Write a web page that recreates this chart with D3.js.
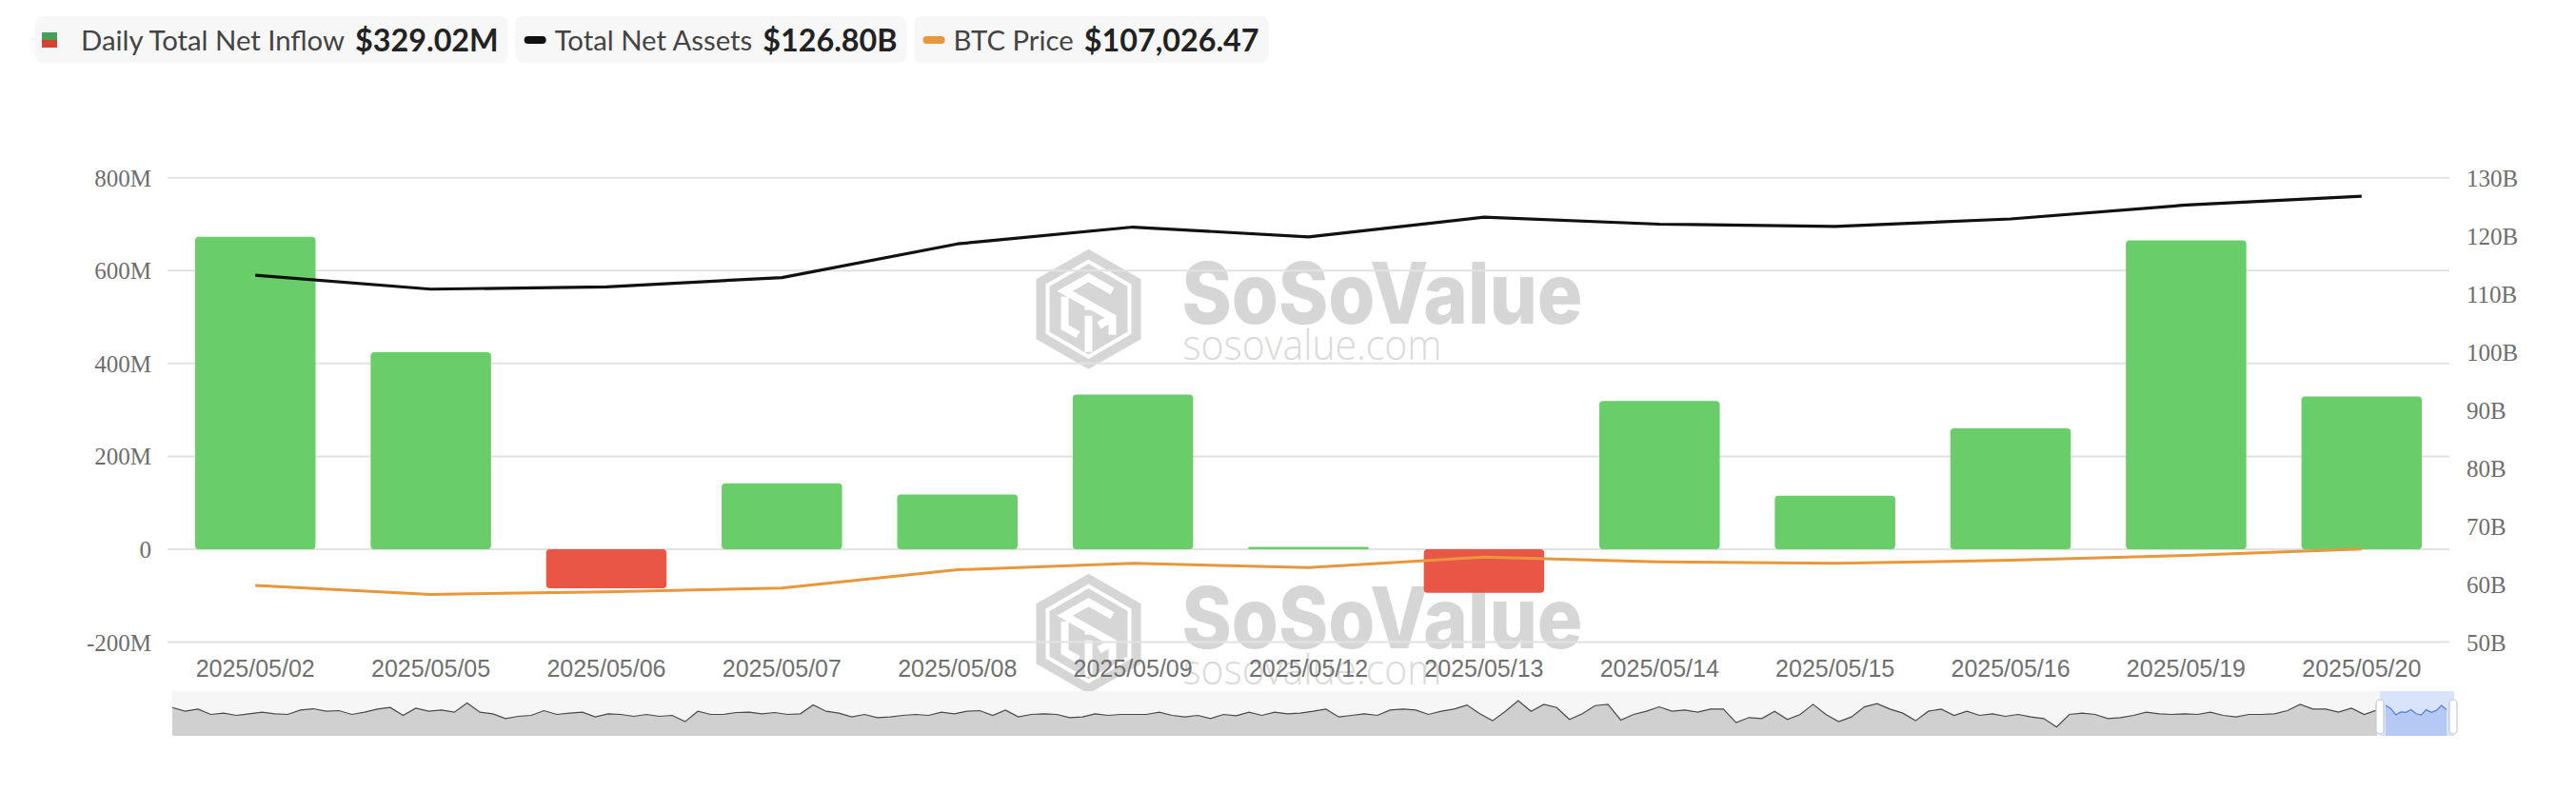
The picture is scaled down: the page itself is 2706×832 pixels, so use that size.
<!DOCTYPE html>
<html><head><meta charset="utf-8">
<script src="https://cdn.jsdelivr.net/npm/d3@7"></script>
<style>html,body{margin:0;padding:0;background:#fff;} svg{display:block;}</style>
</head><body>
<svg id="chart" width="2706" height="832"></svg>
<script>
// ---------------- DATA ----------------
const dates = ["2025/05/02","2025/05/05","2025/05/06","2025/05/07","2025/05/08","2025/05/09","2025/05/12","2025/05/13","2025/05/14","2025/05/15","2025/05/16","2025/05/19","2025/05/20"];
const netInflowM = [673, 424, -84, 142, 118, 333, 5, -94, 319, 115, 260, 665, 329.02];
const totalNetAssetsB = [113.2, 110.8, 111.2, 112.8, 118.6, 121.5, 119.8, 123.2, 122.0, 121.6, 122.9, 125.3, 126.80];
const btcPrice = [96834, 94351, 95066, 96119, 101254, 103022, 101865, 104790, 103464, 103022, 103906, 105232, 107026.47];
const leftTicks = [-200, 0, 200, 400, 600, 800];
const rightTicks = [50, 60, 70, 80, 90, 100, 110, 120, 130];
const legendItems = [
  {label: "Daily Total Net Inflow", value: "$329.02M", icon: "split"},
  {label: "Total Net Assets", value: "$126.80B", icon: "#111111"},
  {label: "BTC Price", value: "$107,026.47", icon: "#e8973c"}
];
// overview (data-zoom slider) history of daily net inflow, M USD (sampled)
const overviewHistoryM = [500,200,375,-50,50,-125,0,125,0,-50,300,400,200,250,-50,125,375,500,-125,450,200,300,125,850,125,0,-375,-200,-125,250,-50,50,125,-250,0,-50,-200,-50,-200,-125,-625,200,-50,-50,100,125,0,100,-50,0,700,200,50,-250,-50,-300,-250,-125,-50,-125,125,0,200,250,-125,300,-250,-50,0,-50,-300,-250,0,-125,-50,-50,-50,125,-125,-250,-125,-375,-50,-150,125,-125,125,0,50,200,375,
 -250,-125,0,-125,300,375,300,-50,200,375,700,0,-550,200,1050,200,750,500,-450,0,650,750,-500,-50,200,550,200,300,125,375,375,-700,-300,-375,200,-450,-50,750,-50,-625,-250,550,800,375,50,-550,200,375,-125,200,-125,0,-200,-50,-250,-375,-1050,-50,50,-50,-375,-300,-125,125,0,-50,0,-50,125,-125,-250,-50,-50,0,250,750,375,375,125,450,-50,300];

// ---------------- LAYOUT ----------------
const plot = {left: 176, right: 2573, top: 186.7, bottom: 674.5};
const svg = d3.select("#chart");

const x = d3.scaleBand().domain(dates).range([plot.left, plot.right]).paddingInner(0.314).paddingOuter(0.157);
const yL = d3.scaleLinear().domain([-200, 800]).range([plot.bottom, plot.top]);
const yR = d3.scaleLinear().domain([50, 130]).range([plot.bottom, plot.top]);
const yBtc = d3.scaleLinear().domain([81000, 211000]).range([plot.bottom, plot.top]);
const cx = d => x(d) + x.bandwidth() / 2;

const WM = "#d6d6d6";
// ---------------- WATERMARKS ----------------
function watermark(ox, oy) {
  const g = svg.append("g").attr("transform", `translate(${ox},${oy})`);
  g.append("polygon").attr("points", "55,0 110,31.5 110,94.5 55,126 0,94.5 0,31.5").attr("fill", WM);
  g.append("polygon").attr("points", "55,13 98,38 98,88 55,113 12,88 12,38").attr("fill", "none").attr("stroke", "#fff").attr("stroke-width", 4);
  g.append("path").attr("d", "M80,44 L55,30 L30,44 L55,58 L55,64 M55,58 L80,72 L80,90 M30,50 L30,82 L44,90 M55,70 L55,108 M66,80 L80,72")
    .attr("fill", "none").attr("stroke", "#fff").attr("stroke-width", 8).attr("stroke-linejoin", "miter");
  g.append("text").attr("x", 153).attr("y", 78.3).text("SoSoValue")
    .attr("font-family", "Inter, Roboto, sans-serif").attr("font-weight", 800).attr("font-size", 89)
    .attr("textLength", 421).attr("lengthAdjust", "spacingAndGlyphs").attr("fill", WM);
  g.append("text").attr("x", 154).attr("y", 116.6).text("sosovalue.com")
    .attr("font-family", "'Open Sans', sans-serif").attr("font-weight", 300).attr("font-size", 44)
    .attr("textLength", 272).attr("lengthAdjust", "spacingAndGlyphs").attr("fill", "#dadada");
}
const wmX = (plot.left + plot.right) / 2 - 286;
watermark(wmX, 261.7);
watermark(wmX, 602.7);

// ---------------- GRID ----------------
svg.append("g").selectAll("line").data(leftTicks).join("line")
  .attr("x1", plot.left).attr("x2", plot.right)
  .attr("y1", d => yL(d)).attr("y2", d => yL(d))
  .attr("stroke", "#e2e2e2").attr("stroke-width", 2);

// ---------------- AXES ----------------
const axisL = d3.axisLeft(yL).tickValues(leftTicks).tickSize(0).tickPadding(17)
  .tickFormat(d => d === 0 ? "0" : d + "M");
const gL = svg.append("g").attr("transform", `translate(${plot.left},0)`).call(axisL);
gL.select(".domain").remove();
gL.selectAll("text").attr("font-family", "'Liberation Serif', 'Times New Roman', serif").attr("font-size", 25).attr("fill", "#6e6e6e").attr("dy", "0.34em");

const axisR = d3.axisRight(yR).tickValues(rightTicks).tickSize(0).tickPadding(18)
  .tickFormat(d => d + "B");
const gR = svg.append("g").attr("transform", `translate(${plot.right},0)`).call(axisR);
gR.select(".domain").remove();
gR.selectAll("text").attr("font-family", "'Liberation Serif', 'Times New Roman', serif").attr("font-size", 25).attr("fill", "#6e6e6e").attr("dy", "0.34em");

const axisB = d3.axisBottom(x).tickSize(0).tickPadding(0);
const gB = svg.append("g").attr("transform", `translate(0,${plot.bottom})`).call(axisB);
gB.select(".domain").remove();
gB.selectAll("text").attr("font-family", "'Liberation Sans', Arial, sans-serif").attr("font-size", 25).attr("fill", "#707070").attr("dy", null).attr("y", 36);

// ---------------- BARS ----------------
svg.append("g").selectAll("rect").data(dates).join("rect")
  .attr("x", d => x(d)).attr("width", x.bandwidth())
  .attr("y", (d, i) => yL(Math.max(0, netInflowM[i])))
  .attr("height", (d, i) => Math.abs(yL(netInflowM[i]) - yL(0)))
  .attr("rx", (d, i) => Math.min(4, Math.abs(yL(netInflowM[i]) - yL(0)) / 2))
  .attr("fill", (d, i) => netInflowM[i] >= 0 ? "#69cd69" : "#ea5646");

// ---------------- LINES ----------------
const lineAssets = d3.line().x((d, i) => cx(dates[i])).y(d => yR(d));
svg.append("path").datum(totalNetAssetsB).attr("d", lineAssets)
  .attr("fill", "none").attr("stroke", "#111").attr("stroke-width", 3.2).attr("stroke-linejoin", "round");
const lineBtc = d3.line().x((d, i) => cx(dates[i])).y(d => yBtc(d));
svg.append("path").datum(btcPrice).attr("d", lineBtc)
  .attr("fill", "none").attr("stroke", "#e8973c").attr("stroke-width", 3).attr("stroke-linejoin", "round");

// ---------------- OVERVIEW SLIDER ----------------
const ov = {left: 181, right: 2578, top: 726, bottom: 773, selL: 2500};
svg.append("rect").attr("x", ov.left).attr("y", ov.top).attr("width", ov.right - ov.left).attr("height", ov.bottom - ov.top).attr("fill", "#f6f6f6");
const oy = d3.scaleLinear().domain([-1750, 1800]).range([ov.bottom, ov.top]);
const oxH = d3.scaleLinear().domain([0, overviewHistoryM.length - 1]).range([ov.left, ov.selL - 3]);
const areaH = d3.area().x((d, i) => oxH(i)).y0(ov.bottom).y1(d => oy(d));
const lineH = d3.line().x((d, i) => oxH(i)).y(d => oy(d));
svg.append("path").datum(overviewHistoryM).attr("d", areaH).attr("fill", "#d0d0d0");
svg.append("path").datum(overviewHistoryM).attr("d", lineH).attr("fill", "none").attr("stroke", "#4a4a4a").attr("stroke-width", 1.2);
// selected window
svg.append("rect").attr("x", ov.selL).attr("y", ov.top).attr("width", ov.right - ov.selL).attr("height", ov.bottom - ov.top).attr("fill", "#d9e4fb");
const oxW = d3.scalePoint().domain(dates).range([ov.selL + 6, ov.right - 8]);
svg.append("path").datum(netInflowM).attr("d", d3.area().x((d, i) => oxW(dates[i])).y0(ov.bottom).y1(d => oy(d)))
  .attr("fill", "#b5c9f5");
svg.append("path").datum(netInflowM).attr("d", d3.line().x((d, i) => oxW(dates[i])).y(d => oy(d)))
  .attr("fill", "none").attr("stroke", "#5a7bdc").attr("stroke-width", 1.2);
[ov.selL, ov.right - 1].forEach(hx => {
  svg.append("rect").attr("x", hx - 4).attr("y", ov.top + 9).attr("width", 8).attr("height", 36).attr("rx", 4)
    .attr("fill", "#fff").attr("stroke", "#c9c9c9").attr("stroke-width", 1.2);
});

// ---------------- LEGEND ----------------
const lg = svg.append("g");
const legendFont = "Lato, 'Noto Sans', sans-serif";
let bx = 37;
legendItems.forEach((it, k) => {
  const g = lg.append("g");
  const box = g.append("rect").attr("y", 17).attr("height", 49).attr("rx", 8).attr("fill", "#f7f7f7");
  let tx;
  if (it.icon === "split") {
    g.append("rect").attr("x", bx + 7).attr("y", 34).attr("width", 16).attr("height", 8).attr("fill", "#46a158");
    g.append("rect").attr("x", bx + 7).attr("y", 42).attr("width", 16).attr("height", 8).attr("fill", "#d3432f");
    tx = bx + 48;
  } else {
    g.append("rect").attr("x", bx + 9).attr("y", 38).attr("width", 23).attr("height", 8).attr("rx", 4).attr("fill", it.icon);
    tx = bx + 41;
  }
  const t1 = g.append("text").attr("x", tx).attr("y", 53).text(it.label)
    .attr("font-family", legendFont).attr("font-size", 29.3).attr("fill", "#444");
  const w1 = t1.node().getComputedTextLength();
  const t2 = g.append("text").attr("x", tx + w1 + 11).attr("y", 53.5).text(it.value)
    .attr("font-family", legendFont).attr("font-weight", 700).attr("font-size", 32.3).attr("fill", "#222");
  const w2 = t2.node().getComputedTextLength();
  const end = tx + w1 + 11 + w2 + 10;
  box.attr("x", bx).attr("width", end - bx);
  bx = end + 8;
});
</script>
</body></html>
